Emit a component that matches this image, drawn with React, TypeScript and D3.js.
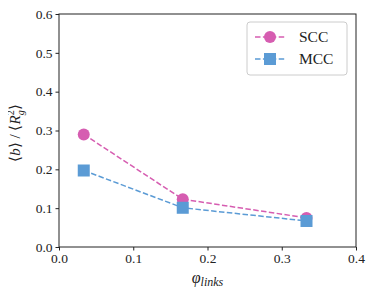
import React, { useEffect, useRef } from 'react';
import * as d3 from 'd3';

const phiLinks = [1 / 30, 1 / 6, 1 / 3];
const sccValues = [0.29, 0.123, 0.075];
const mccValues = [0.197, 0.101, 0.067];
const xTicks = [0, 0.1, 0.2, 0.3, 0.4];
const yTicks = [0, 0.1, 0.2, 0.3, 0.4, 0.5, 0.6];

const PINK = '#d65db1';
const BLUE = '#5b9bd5';
const FONT = "'Liberation Serif', 'Times New Roman', serif";

export default function App() {
  const svgRef = useRef<SVGSVGElement>(null);

  useEffect(() => {
    if (!svgRef.current) return;
    const width = 374;
    const height = 296;
    const margin = { top: 14, right: 18, bottom: 49, left: 59 };
    const w = width - margin.left - margin.right;
    const h = height - margin.top - margin.bottom;

    const svg = d3.select(svgRef.current);
    svg.selectAll('*').remove();
    svg.attr('width', width).attr('height', height);

    const g = svg.append('g').attr('transform', `translate(${margin.left},${margin.top})`);

    const x = d3.scaleLinear().domain([0, 0.4]).range([0, w]);
    const y = d3.scaleLinear().domain([0, 0.6]).range([h, 0]);

    // Axes
    g.append('g').attr('transform', `translate(0,${h})`)
      .call(d3.axisBottom(x).tickValues(xTicks).tickFormat(d3.format('.1f')).tickSize(3.5).tickPadding(3))
      .call(a => a.selectAll('text').attr('fill', '#222').style('font-family', FONT).style('font-size', '13.5px'))
      .call(a => a.selectAll('line').attr('stroke', '#222'))
      .call(a => a.select('.domain').remove());

    g.append('g')
      .call(d3.axisLeft(y).tickValues(yTicks).tickFormat(d3.format('.1f')).tickSize(3.5).tickPadding(3))
      .call(a => a.selectAll('text').attr('fill', '#222').style('font-family', FONT).style('font-size', '13.5px'))
      .call(a => a.selectAll('line').attr('stroke', '#222'))
      .call(a => a.select('.domain').remove());

    g.append('rect').attr('x', 0).attr('y', 0).attr('width', w).attr('height', h)
      .attr('fill', 'none').attr('stroke', '#222').attr('stroke-width', 1);

    const line = d3.line<number>().x((d, i) => x(phiLinks[i])).y(d => y(d));

    const drawSeries = (vals: number[], color: string, shape: 'circle' | 'square') => {
      g.append('path').datum(vals)
        .attr('fill', 'none').attr('stroke', color).attr('stroke-width', 1.5)
        .attr('stroke-dasharray', '5.5,2.4').attr('d', line);
      vals.forEach((v, i) => {
        if (shape === 'circle') {
          g.append('circle').attr('cx', x(phiLinks[i])).attr('cy', y(v)).attr('r', 6)
            .attr('fill', color);
        } else {
          g.append('rect').attr('x', x(phiLinks[i]) - 6).attr('y', y(v) - 6)
            .attr('width', 12).attr('height', 12).attr('fill', color);
        }
      });
    };

    drawSeries(sccValues, PINK, 'circle');
    drawSeries(mccValues, BLUE, 'square');

    // Legend
    const lg = svg.append('g').attr('transform', 'translate(247,22)');
    lg.append('rect').attr('x', 0).attr('y', 0).attr('width', 100).attr('height', 53).attr('rx', 3)
      .attr('fill', 'white').attr('stroke', '#ccc').attr('stroke-width', 1);
    const items = [
      { label: 'SCC', color: PINK, shape: 'circle' },
      { label: 'MCC', color: BLUE, shape: 'square' },
    ];
    items.forEach((it, i) => {
      const cy = 15 + i * 22;
      lg.append('line').attr('x1', 8).attr('x2', 38).attr('y1', cy).attr('y2', cy)
        .attr('stroke', it.color).attr('stroke-width', 1.5).attr('stroke-dasharray', '5.5,2.4');
      if (it.shape === 'circle') {
        lg.append('circle').attr('cx', 23).attr('cy', cy).attr('r', 6).attr('fill', it.color);
      } else {
        lg.append('rect').attr('x', 17).attr('y', cy - 6).attr('width', 12).attr('height', 12).attr('fill', it.color);
      }
      lg.append('text').attr('x', 52).attr('y', cy + 5).attr('fill', '#222')
        .style('font-family', FONT).style('font-size', '15.5px').text(it.label);
    });

    // Axis labels
    const xl = svg.append('text').attr('x', margin.left + w / 2).attr('y', 283)
      .attr('text-anchor', 'middle').attr('fill', '#222')
      .style('font-family', FONT).style('font-size', '16px').style('font-style', 'italic');
    xl.append('tspan').text('φ');
    xl.append('tspan').attr('dy', 3).style('font-size', '12px').text('links');

    const yl = svg.append('text').attr('transform', 'translate(20,133) rotate(-90)')
      .attr('text-anchor', 'middle').attr('fill', '#222')
      .style('font-family', FONT).style('font-size', '15px');
    yl.append('tspan').text('⟨');
    yl.append('tspan').style('font-style', 'italic').text('b');
    yl.append('tspan').text('⟩ / ⟨');
    yl.append('tspan').style('font-style', 'italic').text('R');
    yl.append('tspan').attr('dy', -6).style('font-size', '10px').text('2');
    yl.append('tspan').attr('dx', -5).attr('dy', 10).style('font-size', '10px').style('font-style', 'italic').text('g');
    yl.append('tspan').attr('dy', -4).text('⟩');
  }, []);

  return (
    <div style={{ margin: -8 }}>
      <svg ref={svgRef} style={{ display: 'block', background: 'white' }} />
    </div>
  );
}
